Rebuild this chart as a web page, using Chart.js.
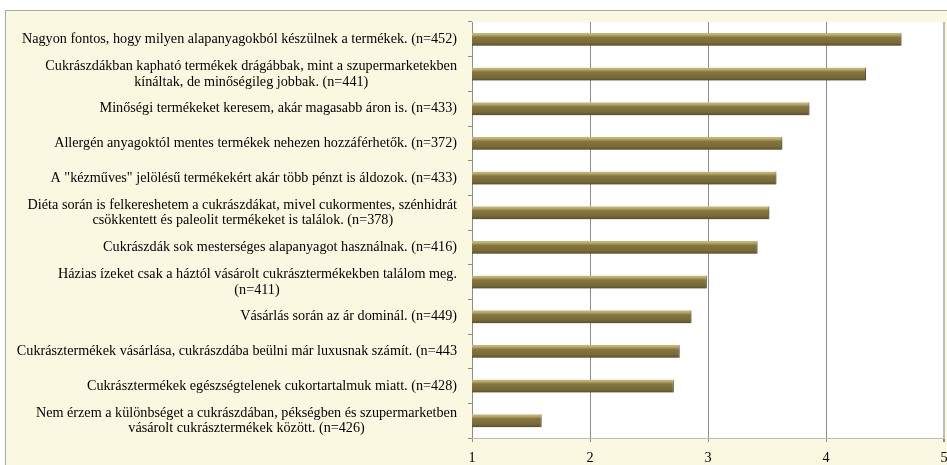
<!DOCTYPE html>
<html><head><meta charset="utf-8">
<script src="https://cdn.jsdelivr.net/npm/chart.js@4/dist/chart.umd.min.js"></script>
<style>html,body{margin:0;padding:0;background:#fff;overflow:hidden}#wrap{width:947px;height:465px}</style>
</head><body><div id="wrap"><canvas id="c" width="947" height="465"></canvas></div>
<script>
const categories = [
  "Nagyon fontos, hogy milyen alapanyagokból készülnek a termékek. (n=452)",
  ["Cukrászdákban kapható termékek drágábbak, mint a szupermarketekben", "kínáltak, de minőségileg jobbak. (n=441)"],
  "Minőségi termékeket keresem, akár magasabb áron is. (n=433)",
  "Allergén anyagoktól mentes termékek nehezen hozzáférhetők. (n=372)",
  "A \"kézműves\" jelölésű termékekért akár több pénzt is áldozok. (n=433)",
  ["Diéta során is felkereshetem a cukrászdákat, mivel cukormentes, szénhidrát", "csökkentett és paleolit termékeket is találok. (n=378)"],
  "Cukrászdák sok mesterséges alapanyagot használnak. (n=416)",
  ["Házias ízeket csak a háztól vásárolt cukrásztermékekben találom meg.", "(n=411)"],
  "Vásárlás során az ár dominál. (n=449)",
  "Cukrásztermékek vásárlása, cukrászdába beülni már luxusnak számít. (n=443",
  "Cukrásztermékek egészségtelenek cukortartalmuk miatt. (n=428)",
  ["Nem érzem a különbséget a cukrászdában, pékségben és szupermarketben", "vásárolt cukrásztermékek között. (n=426)"]
];
const values = [4.64, 4.34, 3.86, 3.63, 3.58, 3.52, 3.42, 2.99, 2.86, 2.76, 2.71, 1.59];
const xMin = 1;
const xMax = 5;
const xStep = 1;

const FONT = "'Liberation Serif', 'Times New Roman', serif";
const FSIZE = 14.2;

// centre the lines of multi-line labels (as in the original), keeping right alignment overall
const mctx = document.createElement('canvas').getContext('2d');
mctx.font = FSIZE + "px " + FONT;
const spaceW = mctx.measureText(' ').width;
const labels = categories.map(l => {
  if (!Array.isArray(l)) return l;
  const w = l.map(s => mctx.measureText(s).width);
  const mx = Math.max(...w);
  return l.map((s, i) => s + ' '.repeat(Math.round((mx - w[i]) / 2 / spaceW)));
});

const BAR_FRAC = 0.375;

const bgPlugin = {
  id: 'bg',
  beforeDraw(chart) {
    const ctx = chart.ctx, a = chart.chartArea;
    ctx.save();
    ctx.fillStyle = '#ffffff';
    ctx.fillRect(0, 0, chart.width, chart.height);
    ctx.fillStyle = '#faf8e1';
    ctx.fillRect(5, 10, chart.width - 5, chart.height - 10);
    ctx.strokeStyle = '#a8a8a8';
    ctx.lineWidth = 1;
    ctx.beginPath();
    ctx.moveTo(5.5, chart.height);
    ctx.lineTo(5.5, 10.5);
    ctx.lineTo(chart.width, 10.5);
    ctx.stroke();
    ctx.fillStyle = '#ffffff';
    ctx.fillRect(a.left, a.top, a.right - a.left, a.bottom - a.top);
    ctx.restore();
  }
};

const shadowPlugin = {
  id: 'barShadow',
  beforeDatasetsDraw(chart) {
    const ctx = chart.ctx;
    ctx.save();
    ctx.shadowColor = 'rgba(0,0,0,0.35)';
    ctx.shadowBlur = 3;
    ctx.shadowOffsetX = 1.5;
    ctx.shadowOffsetY = 2;
  },
  afterDatasetsDraw(chart) { chart.ctx.restore(); }
};

function barFill(c) {
  const ch = c.chart, ys = ch.scales && ch.scales.y;
  if (c.type !== 'data' || !ys || !isFinite(ys.top)) return '#7d6e3c';
  const yc = ys.getPixelForValue(c.dataIndex);
  const h = (ys.bottom - ys.top) / categories.length * BAR_FRAC;
  const g = ch.ctx.createLinearGradient(0, yc - h / 2, 0, yc + h / 2);
  g.addColorStop(0, '#cdbf8a');
  g.addColorStop(0.18, '#b3a467');
  g.addColorStop(0.35, '#85763f');
  g.addColorStop(0.75, '#786a39');
  g.addColorStop(1, '#5b502a');
  return g;
}

new Chart(document.getElementById('c'), {
  type: 'bar',
  data: {
    labels: labels,
    datasets: [{
      data: values,
      backgroundColor: barFill,
      borderColor: '#5e5229',
      borderWidth: {top: 0, left: 0, bottom: 0, right: 1},
      borderSkipped: false,
      barPercentage: BAR_FRAC,
      categoryPercentage: 1
    }]
  },
  plugins: [bgPlugin, shadowPlugin],
  options: {
    indexAxis: 'y',
    responsive: false,
    animation: false,
    devicePixelRatio: 1,
    layout: {padding: {left: 0, top: 22, right: 3, bottom: 0}},
    plugins: {legend: {display: false}, tooltip: {enabled: false}},
    scales: {
      y: {
        position: 'left',
        afterFit(s) { s.width = 472; s.paddingTop = 0; s.paddingBottom = 0; s.paddingLeft = 0; s.paddingRight = 0; },
        grid: {display: true, drawOnChartArea: false, drawTicks: true, tickLength: 4, color: '#8c8c8c', offset: true},
        border: {display: true, color: '#8c8c8c', width: 1},
        ticks: {
          color: '#000',
          padding: 11,
          autoSkip: false,
          font: {family: FONT, size: FSIZE, lineHeight: 1.11}
        }
      },
      x: {
        type: 'linear',
        min: xMin,
        max: xMax,
        afterFit(s) { s.height = 27; s.paddingTop = 0; s.paddingBottom = 0; s.paddingLeft = 0; s.paddingRight = 0; },
        grid: {
          color: (c) => (c.tick && c.tick.value === xMax) ? '#bdbdbd' : '#8c8c8c',
          lineWidth: (c) => (c.tick && c.tick.value === xMax) ? 2 : 1,
          tickColor: '#8c8c8c',
          tickLength: 4
        },
        border: {display: true, color: '#bdbdbd', width: 1},
        ticks: {
          stepSize: xStep,
          color: '#000',
          padding: 8,
          font: {family: FONT, size: FSIZE}
        }
      }
    }
  }
});
</script>
</body></html>
